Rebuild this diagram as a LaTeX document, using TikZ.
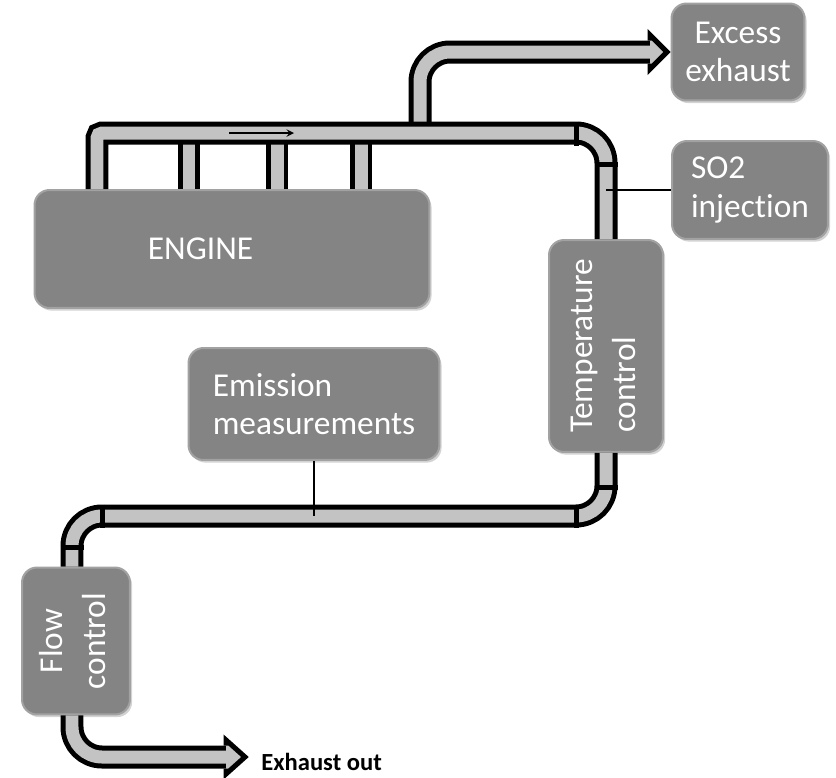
\documentclass[tikz,border=0pt]{standalone}
\usepackage{fontspec}
\setmainfont{Carlito}[Ligatures=NoCommon]
\usetikzlibrary{positioning,calc,shadows,arrows}
\definecolor{pipegray}{RGB}{195,195,195}
\definecolor{boxgray}{RGB}{132,132,132}
\definecolor{boxrim}{RGB}{162,162,162}

\begin{document}
\begin{tikzpicture}[
    x=0.02cm, y=-0.02cm,
    box/.style={rectangle, draw=boxrim, line width=0.4mm, fill=boxgray, rounded corners=3mm, text=white, font=\fontsize{19}{22}\selectfont, drop shadow={opacity=0.35, shadow xshift=1.2pt, shadow yshift=-1.5pt}},
    pipe/.style={line width=1mm, draw=black, double=pipegray, double distance=2.6mm, rounded corners=6mm},
    joint/.style={line width=1mm, draw=black},
    wire/.style={line width=0.3mm, draw=black},
    flowarrow/.style={->, >=stealth, line width=0.3mm}
]
\useasboundingbox (0,0) rectangle (836,778);

% BOXES
\node[box, minimum width=7.9cm, minimum height=2.36cm] (engine) at (232,249) {ENGINE\hspace*{1.26cm}};
\node[box, minimum width=2.66cm, minimum height=1.94cm, align=center] (excess) at (738,52) {Excess\\exhaust};
\node[box, minimum width=3.12cm, minimum height=1.96cm, align=left] (so2) at (750,190) {SO2\\injection};
\node[box, minimum width=2.28cm, minimum height=4.24cm] (temp) at (606,346) {\rotatebox{90}{\begin{tabular}{@{}l@{}}Temperature\\[2.5pt]control\end{tabular}}};
\node[box, minimum width=5.02cm, minimum height=2.24cm, align=left] (emission) at (314,404) {Emission\\measurements};
\node[box, minimum width=2.16cm, minimum height=2.94cm] (flowctl) at (76,641) {\rotatebox{90}{\begin{tabular}{@{}c@{}}Flow\\[2.5pt]control\end{tabular}}};
\node[font=\bfseries\fontsize{14}{16}\selectfont, anchor=west, inner sep=0pt] (out) at (261,762) {Exhaust out};

% PIPES
\coordinate (lt) at (97,133);
\coordinate (rt) at (606,133);
\coordinate (rb) at (606,516);
\coordinate (lb) at (72,516);
\coordinate (exit) at (72,757);

\foreach \x in {189,277,361}
  \draw[pipe] (\x,133) -- (\x,133 |- engine.north);
\draw[pipe] (420,133) -- (420,52) -- (650,52);

\draw[pipe] (97,133 |- engine.north) [rounded corners=1mm] -- (lt) [rounded corners=6mm] -- (rt) -- (temp.north);
\draw[pipe] (temp.south) -- (rb) -- (lb) -- (72,0 |- flowctl.north);
\draw[pipe] (72,0 |- flowctl.south) -- (exit) -- (226,757);

% arrow heads
\fill[pipegray] (650,35) -- (667,52) -- (650,69) -- cycle;
\draw[joint, line join=miter] (650,40.5) -- (650,35) -- (667,52) -- (650,69) -- (650,63.5);
\fill[pipegray] (226,740) -- (245,757) -- (226,774) -- cycle;
\draw[joint, line join=miter] (226,745.5) -- (226,740) -- (245,757) -- (226,774) -- (226,768.5);

% elbow joints
\draw[joint] (576,121.5) -- (576,145.5);
\draw[joint] (594.5,164) -- (617.5,164);
\draw[joint] (594.5,487) -- (617.5,487);
\draw[joint] (576,504.5) -- (576,527.5);
\draw[joint] (102,504.5) -- (102,527.5);
\draw[joint] (60.5,547) -- (83.5,547);

% sensor / injection lines
\draw[wire] (606,0 |- so2.west) -- (so2.west);
\draw[wire] (emission.south) -- (emission.south |- rb);
\draw[flowarrow] (229,133) -- (294,133);

\end{tikzpicture}
\end{document}
